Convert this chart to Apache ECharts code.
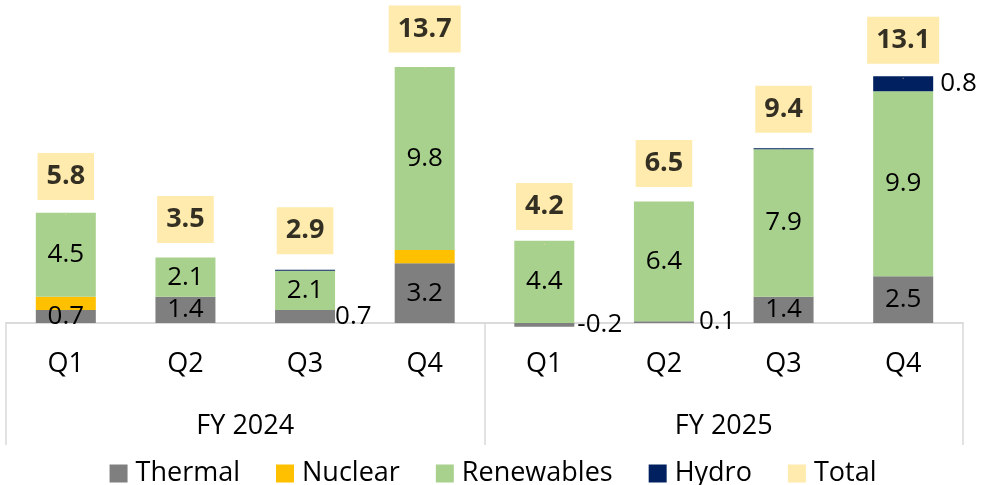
<!DOCTYPE html>
<html>
<head>
<meta charset="utf-8">
<script src="https://cdn.jsdelivr.net/npm/echarts@6/dist/echarts.min.js"></script>
<style>
html,body{margin:0;padding:0;background:#fff;}
#chart{width:986px;height:485px;}
</style>
</head>
<body>
<div id="chart"></div>
<script>
// ---- data ----
const quarters = ['Q1', 'Q2', 'Q3', 'Q4', 'Q1', 'Q2', 'Q3', 'Q4'];
const fiscalYears = ['FY 2024', 'FY 2025'];
const thermal = [0.7, 1.4, 0.7, 3.2, -0.2, 0.1, 1.4, 2.5];
const nuclear = [0.7, 0, 0, 0.7, 0, 0, 0, 0];
const renewables = [4.5, 2.1, 2.1, 9.8, 4.4, 6.4, 7.9, 9.9];
const hydro = [0, 0, 0.05, 0, 0, 0, 0.05, 0.8];
const totals = [5.8, 3.5, 2.9, 13.7, 4.2, 6.5, 9.4, 13.1];

// ---- label placement (which bar labels sit outside, to the right) ----
const thermalRightLabels = { 2: 0, 4: 3, 5: 5 };   // index -> distance
const hydroRightLabels = { 7: 7 };

const FONT = '"Open Sans", "Noto Sans", sans-serif';
const fmt = v => Number(v).toFixed(1);

function buildItems(values, rightMap, hideAllOthers) {
  return values.map((v, i) => {
    if (rightMap && rightMap[i] !== undefined) {
      return { value: v, label: { show: true, position: 'right', distance: rightMap[i] } };
    }
    if (hideAllOthers) return { value: v, label: { show: false } };
    return { value: v };
  });
}

const barLabel = {
  show: true,
  position: 'inside',
  color: '#000',
  fontFamily: FONT,
  fontSize: 26,
  formatter: p => fmt(p.value)
};

const chart = echarts.init(document.getElementById('chart'), null, { renderer: 'canvas' });

chart.setOption({
  animation: false,
  backgroundColor: '#fff',
  textStyle: { fontFamily: FONT },
  grid: { left: 6, right: 23, top: 23.96, height: 308.4, outerBoundsMode: 'none', containLabel: false },
  legend: {
    top: 455,
    left: 'center',
    icon: 'rect',
    itemWidth: 18,
    itemHeight: 18,
    itemGap: 36,
    textStyle: { fontFamily: FONT, fontSize: 27, color: '#000', padding: [0, 0, 0, 3] },
    data: ['Thermal', 'Nuclear', 'Renewables', 'Hydro', 'Total']
  },
  xAxis: [
    {
      type: 'category',
      data: quarters,
      axisLine: { show: true, onZero: true, onZeroAxisIndex: 0, lineStyle: { color: '#D9D9D9', width: 1.5 } },
      axisTick: { show: false },
      axisLabel: { margin: 18, color: '#000', fontFamily: FONT, fontSize: 27, interval: 0 }
    },
    {
      type: 'category',
      data: fiscalYears,
      position: 'bottom',
      axisLine: { show: true, onZero: true, onZeroAxisIndex: 0, lineStyle: { color: '#D9D9D9', width: 1.5 } },
      axisTick: { show: true, length: 122, lineStyle: { color: '#D9D9D9', width: 1.5 } },
      axisLabel: { margin: 80, color: '#000', fontFamily: FONT, fontSize: 27, interval: 0 }
    }
  ],
  yAxis: {
    type: 'value',
    min: -0.5,
    max: 16,
    show: false,
    splitLine: { show: false }
  },
  series: [
    {
      name: 'Thermal', type: 'bar', stack: 'gen', barWidth: 60,
      itemStyle: { color: '#7F7F7F' },
      label: barLabel,
      data: buildItems(thermal, thermalRightLabels, false)
    },
    {
      name: 'Nuclear', type: 'bar', stack: 'gen', barWidth: 60,
      itemStyle: { color: '#FFC000' },
      label: { show: false },
      data: nuclear
    },
    {
      name: 'Renewables', type: 'bar', stack: 'gen', barWidth: 60,
      itemStyle: { color: '#A9D18E' },
      label: barLabel,
      data: buildItems(renewables, null, false)
    },
    {
      name: 'Hydro', type: 'bar', stack: 'gen', barWidth: 60,
      itemStyle: { color: '#002060' },
      label: barLabel,
      data: buildItems(hydro, hydroRightLabels, true)
    },
    {
      name: 'Total', type: 'scatter', symbolSize: 1, z: 5,
      itemStyle: { color: '#FFE699' },
      label: {
        show: true,
        position: 'top',
        distance: 14,
        color: '#000',
        fontFamily: FONT,
        fontSize: 27,
        fontWeight: 'bold',
        lineHeight: 27,
        backgroundColor: '#FFE699',
        padding: [10, 9, 10, 9],
        formatter: p => fmt(p.value)
      },
      data: totals
    }
  ]
});
</script>
</body>
</html>
